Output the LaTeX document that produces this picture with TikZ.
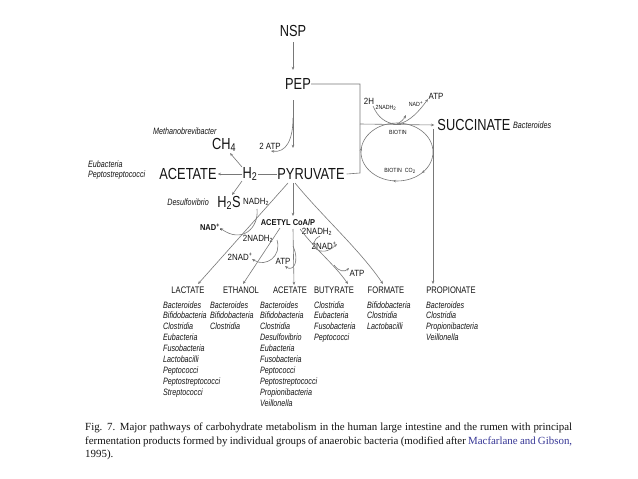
\documentclass[tikz,border=0pt]{standalone}
\usepackage{fontspec}
\setmainfont{Liberation Serif}
\newfontfamily\nf[FakeStretch=0.8]{Liberation Sans}
\newfontfamily\ns[FakeStretch=0.88]{Liberation Sans}
\newfontfamily\nb[FakeStretch=0.78]{Liberation Sans}
\usetikzlibrary{arrows.meta,decorations.markings}
\definecolor{ln}{RGB}{120,120,120}
\definecolor{tx}{RGB}{20,20,20}
\definecolor{lk}{RGB}{55,55,150}
\begin{document}
\begin{tikzpicture}[x=1pt,y=-1pt,
 big/.style={font=\nf\fontsize{16}{16}\selectfont,text=tx,inner sep=0pt},
 prod/.style={font=\nf\fontsize{9.5}{10}\selectfont,text=tx,inner sep=0pt},
 lab/.style={font=\ns\fontsize{9}{10}\selectfont,text=tx,inner sep=0pt},
 blab/.style={font=\ns\bfseries\fontsize{8.5}{10}\selectfont,text=tx,inner sep=0pt},
 tinylab/.style={font=\ns\fontsize{6}{7}\selectfont,text=tx,inner sep=0pt},
 bact/.style={font=\nb\itshape\fontsize{9.2}{10}\selectfont,text=tx,inner sep=0pt,anchor=base west},
 captxt/.style={font=\fontsize{10.9}{12}\selectfont,text=tx,inner sep=0pt,anchor=base west},
 con/.style={draw=ln,line width=0.6pt},
 arr/.style={con,-{Stealth[length=3.2pt,width=2.6pt]}},
 tipmark/.style={decoration={markings,
   mark=at position 0.12 with {\arrow{Stealth[length=3pt,width=2.4pt]}},
   mark=at position 0.27 with {\arrow{Stealth[length=3pt,width=2.4pt]}},
   mark=at position 0.52 with {\arrow{Stealth[length=3pt,width=2.4pt]}}},
   postaction={decorate}},
]
\fill[white] (0,0) rectangle (638,479);
\useasboundingbox (0,0) rectangle (638,479);

% main nodes
\node[big] (nsp) at (293,31) {NSP};
\node[big] (pep) at (298,84) {PEP};
\node[big] (pyr) at (311,174) {PYRUVATE};
\node[big] (h2) at (250,174) {H\textsubscript{2}};
\node[big] (ace) at (188,174) {ACETATE};
\node[big] (ch4) at (224,145) {CH\textsubscript{4}};
\node[big] (h2s) at (229,203) {H\textsubscript{2}S};
\node[big] (succ) at (474,125) {SUCCINATE};

% organisms near main nodes
\node[bact,anchor=west] (mb) at (153,131) {Methanobrevibacter};
\node[bact,anchor=west] (eu) at (88,164) {Eubacteria};
\node[bact,anchor=west] (ps) at (88,175) {Peptostreptococci};
\node[bact,anchor=east] (ds) at (209,202) {Desulfovibrio};
\node[bact,anchor=west] (sb) at (513,125) {Bacteroides};

% small labels
\node[lab] (atp2) at (270,146) {2 ATP};
\node[lab] (nadh) at (256,202) {NADH\textsubscript{2}};
\node[blab] (nadp) at (211,227) {NAD\textsuperscript{+}.};
\node[blab] (acoa) at (288,223) {ACETYL CoA/P};
\node[lab] (enadh) at (258,239) {2NADH\textsubscript{2}};
\node[lab] (enad) at (240,257) {2NAD\textsuperscript{+}};
\node[lab] (aatp) at (283,261) {ATP};
\node[lab] (bnadh) at (317,232) {2NADH\textsubscript{2}};
\node[lab] (bnad) at (324,246) {2NAD\textsuperscript{+}};
\node[lab] (batp) at (357,273) {ATP};
\node[lab] (sh) at (369,101) {2H};
\node[tinylab] (snadh) at (386,108) {2NADH\textsubscript{2}};
\node[tinylab] (snad) at (416,104) {NAD\textsuperscript{+}};
\node[lab] (satp) at (436,96) {ATP};
\node[tinylab] (bio1) at (398,132) {BIOTIN};
\node[tinylab] (bio2) at (400,171) {BIOTIN\enspace CO\textsubscript{2}};

% products
\node[prod] (lac) at (188,290) {LACTATE};
\node[prod] (eth) at (241,290) {ETHANOL};
\node[prod] (acp) at (290,290) {ACETATE};
\node[prod] (but) at (334,290) {BUTYRATE};
\node[prod] (for) at (386,290) {FORMATE};
\node[prod] (pro) at (451,290) {PROPIONATE};

% organism lists
\foreach \t [count=\i from 0] in {Bacteroides,Bifidobacteria,Clostridia,Eubacteria,Fusobacteria,Lactobacilli,Peptococci,Peptostreptococci,Streptococci}
  \node[bact] (lb\i) at (163,{308+10.95*\i}) {\t};
\foreach \t [count=\i from 0] in {Bacteroides,Bifidobacteria,Clostridia}
  \node[bact] (eb\i) at (210,{308+10.95*\i}) {\t};
\foreach \t [count=\i from 0] in {Bacteroides,Bifidobacteria,Clostridia,Desulfovibrio,Eubacteria,Fusobacteria,Peptococci,Peptostreptococci,Propionibacteria,Veillonella}
  \node[bact] (ab\i) at (260,{308+10.95*\i}) {\t};
\foreach \t [count=\i from 0] in {Clostridia,Eubacteria,Fusobacteria,Peptococci}
  \node[bact] (bb\i) at (314,{308+10.95*\i}) {\t};
\foreach \t [count=\i from 0] in {Bifidobacteria,Clostridia,Lactobacilli}
  \node[bact] (fb\i) at (367,{308+10.95*\i}) {\t};
\foreach \t [count=\i from 0] in {Bacteroides,Clostridia,Propionibacteria,Veillonella}
  \node[bact] (pb\i) at (426,{308+10.95*\i}) {\t};

% coordinates
\coordinate (v1) at (293,42);
\coordinate (v2) at (293,70);
\coordinate (v3) at (293,100);
\coordinate (v4) at (293,148);
\coordinate (a1) at (293,118);
\coordinate (a2) at (271,151);
\coordinate (pr) at (360,84);
\coordinate (pq) at (360,124);
\coordinate (py) at (360,173);
\coordinate (sv) at (433,129);

% connectors
\draw[arr] (v1) -- (v2);
\draw[arr] (v3) -- (v4);
\draw[arr] (a1) .. controls (293,140) and (286,153) .. (a2);
\draw[con] (h2.east) -- (pyr.west);
\draw[arr] (h2.west) -- ([xshift=1pt]ace.east);
\draw[arr] (242,167) -- (230,153);
\draw[arr] (242,181) -- (232,195);
\draw[arr] (257,209) .. controls (259,228) and (242,244) .. (220,228);
\draw[arr] (288,183) -- (198,284);
\draw[arr] (293,183) -- (293,216);
\draw[arr] (280,228) -- (243,284);
\draw[arr] (277,240) .. controls (282,256) and (266,268) .. (252,259);
\draw[arr] (293,229) -- (294,285);
\draw[arr] (293,246) .. controls (300,262) and (293,272) .. (285,266);
\draw[arr] (300,229) .. controls (316,250) and (334,264) .. (348,284);
\draw[arr] (320,236) .. controls (305,244) and (320,260) .. (337,244);
\draw[arr] (334,265) .. controls (339,272) and (345,272) .. (349,268);
\draw[arr] (295,183) .. controls (322,216) and (360,250) .. (383,284);

% succinate / propionate branch
\draw[con] (pep.east) -- (pr) -- (py) -- ([xshift=2pt]pyr.east);
\draw[arr] (pq) -- ([xshift=-3pt]succ.west);
\draw[arr] (sv) -- (433,284);
\draw[con,tipmark] (397,152) ellipse [x radius=36, y radius=29];
\draw[con] (373,106) .. controls (378,118) and (386,123) .. (395,124);
\draw[arr] (397,124) .. controls (401,122) and (404,119) .. (406,115);
\draw[arr] (398,124) .. controls (410,122) and (420,110) .. (428,99);

% caption
\node[captxt] (c1) at (85,430.5) {\makebox[487pt][s]{Fig. 7. Major pathways of carbohydrate metabolism in the human large intestine and the rumen with principal}};
\node[captxt] (c2) at (85,444) {\makebox[487pt][s]{fermentation products formed by individual groups of anaerobic bacteria (modified after \textcolor{lk}{Macfarlane and Gibson,}}};
\node[captxt] (c3) at (85,457.5) {1995).};
\end{tikzpicture}
\end{document}
